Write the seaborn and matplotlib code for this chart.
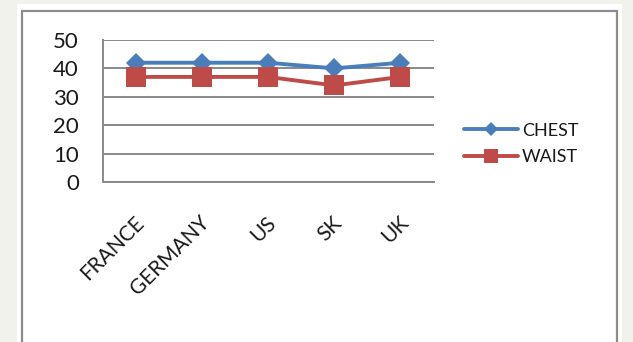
import matplotlib
matplotlib.use("Agg")
import matplotlib.pyplot as plt
import matplotlib.patches as mpatches
import matplotlib.transforms as mtransforms
import seaborn as sns
import pandas as pd

countries = ["FRANCE", "GERMANY", "US", "SK", "UK"]
chest = [42, 42, 42, 40, 42]
waist = [37, 37, 37, 34, 37]
y_ticks = [0, 10, 20, 30, 40, 50]

df = pd.DataFrame({
    "country": countries * 2,
    "value": chest + waist,
    "series": ["CHEST"] * len(countries) + ["WAIST"] * len(countries),
})

sns.set_theme(style="white")
plt.rcParams["font.family"] = ["Lato", "DejaVu Sans"]

W, H = 633, 342
fig = plt.figure(figsize=(W / 100, H / 100), dpi=100, facecolor="#f2f2ed")

# white card with a grey frame
fig.patches.append(mpatches.Rectangle((17 / W, 0), 605 / W, 338 / H,
                                      transform=fig.transFigure, facecolor="white",
                                      edgecolor="none", zorder=-2))
fig.patches.append(mpatches.Rectangle((22 / W, -0.05), 595 / W, (331 / H) + 0.05,
                                      transform=fig.transFigure, facecolor="none",
                                      edgecolor="#8c8c8c", linewidth=1.6, zorder=-1))

ax = fig.add_axes([102.5 / W, 1 - 182 / H, 331 / W, 142 / H])
ax.set_zorder(2)
ax.set_facecolor("none")

palette = {"CHEST": "#4a7ebb", "WAIST": "#be4b48"}
markers = {"CHEST": "D", "WAIST": "s"}
sizes = {"CHEST": 10, "WAIST": 14}
grid_c = "#898989"

for name in ["CHEST", "WAIST"]:
    sub = df[df["series"] == name]
    sns.lineplot(data=sub, x="country", y="value", ax=ax, color=palette[name],
                 marker=markers[name], markersize=sizes[name], linewidth=2.8,
                 markeredgewidth=0, label=name, sort=False, zorder=3)

ax.set_xlim(-0.5, len(countries) - 0.5)
ax.set_ylim(0, 50)
ax.set_yticks(y_ticks)
ax.yaxis.grid(True, color=grid_c, linewidth=1.4)
ax.set_axisbelow(True)

# category ticks between categories, labels at category centres
ax.set_xticks(range(len(countries)))
ax.set_xticklabels(countries)
ax.set_xticks([i - 0.5 for i in range(len(countries) + 1)], minor=True)
ax.tick_params(axis="x", which="major", length=0, pad=27, labelsize=15, labelcolor="#1a1a1a")
ax.tick_params(axis="x", which="minor", length=7, width=1.4, color=grid_c, direction="out")
ax.tick_params(axis="y", length=7, width=1.4, color=grid_c, direction="out",
               labelsize=16, labelcolor="#1a1a1a", pad=10)
shift = mtransforms.ScaledTranslation(5 / 100, 0, fig.dpi_scale_trans)
for lab in ax.get_xticklabels():
    lab.set_rotation(45)
    lab.set_ha("right")
    lab.set_va("center")
    lab.set_rotation_mode("anchor")
    lab.set_transform(lab.get_transform() + shift)

for side in ["top", "right"]:
    ax.spines[side].set_visible(False)
for side in ["left", "bottom"]:
    ax.spines[side].set_color(grid_c)
    ax.spines[side].set_linewidth(1.4)
ax.set_xlabel("")
ax.set_ylabel("")

leg = ax.legend(loc="center left", bbox_to_anchor=(455 / W, 1 - 144 / H),
                bbox_transform=fig.transFigure, frameon=False, fontsize=13,
                handlelength=3.0, handletextpad=0.2, labelspacing=0.6,
                borderpad=0, markerscale=0.75)
for t in leg.get_texts():
    t.set_color("#1a1a1a")

fig.savefig("out.png", dpi=100, facecolor=fig.get_facecolor())
